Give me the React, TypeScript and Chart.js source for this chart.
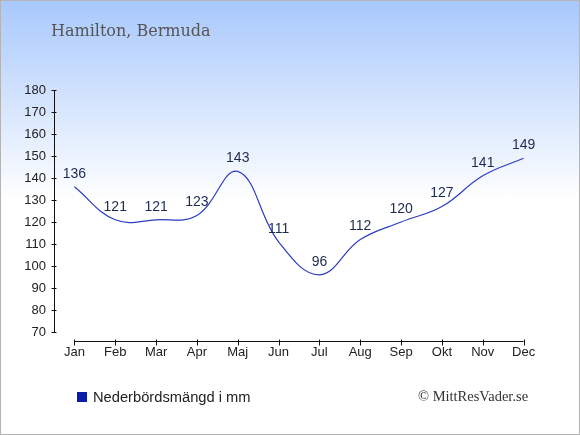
import { useEffect, useRef } from 'react';
import { Chart, registerables } from 'chart.js';

Chart.register(...registerables);

// Nederbörd per månad, Hamilton (mm)
const months = ['Jan', 'Feb', 'Mar', 'Apr', 'Maj', 'Jun', 'Jul', 'Aug', 'Sep', 'Okt', 'Nov', 'Dec'];
const rainfall = [136, 121, 121, 123, 143, 111, 96, 112, 120, 127, 141, 149];
const yMin = 70;
const yMax = 180;
const yStep = 10;

const tickFont = { family: '"Liberation Sans", Arial, sans-serif', size: 13 };

// ritar axellinjerna själv, x-axeln går bara mellan första och sista månaden
const axesPlugin = {
  id: 'axes',
  afterDraw(chart: any) {
    const { ctx, chartArea, scales } = chart;
    const x = scales.x;
    const y = scales.y;
    ctx.save();
    ctx.strokeStyle = '#111';
    ctx.lineWidth = 1;

    const ax = Math.round(chartArea.left) + 0.5;
    ctx.beginPath();
    ctx.moveTo(ax, y.getPixelForValue(yMax));
    ctx.lineTo(ax, y.getPixelForValue(yMin));
    y.ticks.forEach((t: any) => {
      const py = Math.round(y.getPixelForValue(t.value)) + 0.5;
      ctx.moveTo(ax - 3, py);
      ctx.lineTo(ax + 2, py);
    });
    ctx.stroke();

    const ay = Math.round(chartArea.bottom) + 9.5;
    ctx.beginPath();
    ctx.moveTo(x.getPixelForValue(0), ay);
    ctx.lineTo(x.getPixelForValue(months.length - 1), ay);
    months.forEach((_, i) => {
      const px = Math.round(x.getPixelForValue(i)) + 0.5;
      ctx.moveTo(px, ay - 2);
      ctx.lineTo(px, ay + 4);
    });
    ctx.stroke();
    ctx.restore();
  },
};

const valueLabels = {
  id: 'valueLabels',
  afterDatasetsDraw(chart: any) {
    const { ctx } = chart;
    const meta = chart.getDatasetMeta(0);
    ctx.save();
    ctx.font = '14px "Liberation Sans", Arial, sans-serif';
    ctx.fillStyle = '#1d2b52';
    ctx.textAlign = 'center';
    ctx.textBaseline = 'middle';
    meta.data.forEach((pt: any, i: number) => {
      ctx.fillText(String(rainfall[i]), pt.x, pt.y - 13);
    });
    ctx.restore();
  },
};

export default function App() {
  const canvasRef = useRef<HTMLCanvasElement>(null);

  useEffect(() => {
    if (!canvasRef.current) return;

    const chart = new Chart(canvasRef.current, {
      type: 'line',
      data: {
        labels: months,
        datasets: [
          {
            label: 'Nederbördsmängd i mm',
            data: rainfall,
            borderColor: '#2b3cc2',
            borderWidth: 1.2,
            tension: 0.4,
            pointRadius: 0,
            fill: false,
          },
        ],
      },
      options: {
        responsive: false,
        animation: false,
        layout: { padding: { top: 90, right: 36, bottom: 70, left: 0 } },
        scales: {
          x: {
            offset: true,
            grid: { display: false, drawTicks: false },
            border: { display: false },
            ticks: { color: '#222', font: tickFont, padding: 13, maxRotation: 0 },
            afterFit: (s: any) => {
              s.height = 33;
            },
          },
          y: {
            min: yMin,
            max: yMax,
            grid: { display: false, drawTicks: false },
            border: { display: false },
            ticks: { stepSize: yStep, color: '#222', font: tickFont, padding: 8 },
            afterFit: (s: any) => {
              s.width = 54;
            },
          },
        },
        plugins: {
          legend: { display: false },
          tooltip: { enabled: false },
        },
      },
      plugins: [axesPlugin, valueLabels],
    });

    return () => {
      chart.destroy();
    };
  }, []);

  return (
    <div
      style={{
        position: 'absolute',
        left: 0,
        top: 0,
        width: 580,
        height: 435,
        background: 'linear-gradient(180deg, #a8c8fc 0px, #ffffff 200px, #ffffff 435px)',
        overflow: 'hidden',
      }}
    >
      <canvas ref={canvasRef} width={580} height={435} style={{ position: 'absolute', left: 0, top: 0 }} />
      <div
        style={{
          position: 'absolute',
          left: 51,
          top: 21,
          font: '16px "DejaVu Serif", serif',
          color: '#555',
          whiteSpace: 'nowrap',
        }}
      >
        Hamilton, Bermuda
      </div>
      <div
        style={{
          position: 'absolute',
          left: 77,
          top: 389,
          display: 'flex',
          alignItems: 'center',
          font: '14.7px "Liberation Sans", Arial, sans-serif',
          color: '#222',
          whiteSpace: 'nowrap',
        }}
      >
        <span style={{ display: 'inline-block', width: 10, height: 10, background: '#0b1ca6', marginRight: 6 }} />
        Nederbördsmängd i mm
      </div>
      <div
        style={{
          position: 'absolute',
          left: 418,
          top: 388,
          font: '14.5px "Liberation Serif", serif',
          color: '#333',
          whiteSpace: 'nowrap',
        }}
      >
        © MittResVader.se
      </div>
      <div
        style={{
          position: 'absolute',
          inset: 0,
          border: '1px solid #b4b4b4',
          boxSizing: 'border-box',
          pointerEvents: 'none',
        }}
      />
    </div>
  );
}
